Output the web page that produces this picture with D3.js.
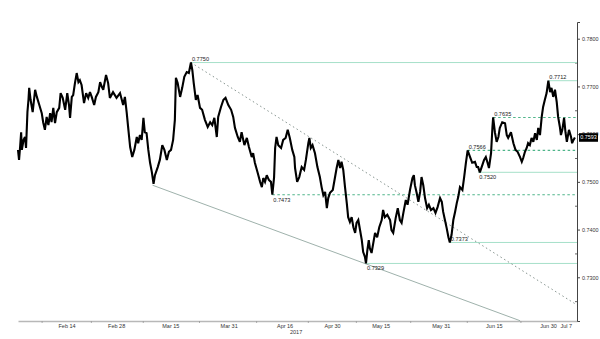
<!DOCTYPE html>
<html>
<head>
<meta charset="utf-8">
<script src="https://cdn.jsdelivr.net/npm/d3@7"></script>
<style>
body { margin: 0; background: #fff; }
text { font-family: "Liberation Sans", Arial, sans-serif; }
</style>
</head>
<body>
<script>
// time position on the chart axis, in days after 31 Jan 2017
var days = [
  0.0,0.3,0.6,0.9,1.1,1.6,2.0,2.3,2.7,3.0,
  3.2,3.6,4.2,4.9,5.4,6.1,6.8,7.2,7.7,8.2,
  8.7,9.2,9.6,10.1,10.6,11.1,11.8,12.2,12.8,13.5,
  14.1,14.6,14.9,15.4,15.8,16.3,16.8,17.3,17.7,18.2,
  18.9,19.5,20.1,20.6,21.1,21.8,22.3,23.0,23.5,24.0,
  24.4,25.2,25.8,26.3,
  27.2,28.2,29.2,30.1,30.6,31.1,31.6,32.1,32.7,33.3,
  34.0,34.4,34.9,35.4,35.9,36.3,36.8,37.3,37.8,38.3,
  38.8,39.2,40.0,40.6,41.3,41.9,42.6,43.2,43.8,44.4,
  44.9,45.2,45.7,46.4,47.0,47.6,48.3,48.9,49.5,49.9,
  50.3,50.9,51.4,52.1,52.7,
  53.5,54.3,55.0,55.6,56.2,56.9,57.3,58.1,58.8,59.4,
  60.2,61.0,61.6,62.1,62.9,63.5,64.0,64.8,65.5,66.1,
  66.9,67.3,67.8,68.6,69.3,69.8,70.2,70.7,71.2,71.8,
  72.4,72.8,73.3,73.6,74.0,74.5,75.3,75.9,76.6,77.2,
  77.8,78.5,79.1,
  79.3,79.9,80.5,81.2,81.9,82.4,83.1,83.4,83.8,84.3,
  85.0,85.7,86.4,86.9,87.4,87.9,88.4,88.8,89.3,90.1,
  90.7,91.2,91.7,92.2,92.6,93.1,93.6,94.1,94.5,95.0,
  95.5,96.0,96.5,96.9,97.4,97.9,98.4,98.8,99.3,99.6,
  100.0,100.4,100.7,101.2,101.7,102.2,102.8,103.4,104.1,104.5,
  105.0,105.7,106.5,
  106.9,107.4,108.1,108.7,109.3,109.8,110.3,111.0,111.5,112.2,
  112.9,113.3,113.6,114.1,114.6,115.1,115.5,116.0,116.5,117.1,
  117.6,118.2,118.9,119.5,120.1,120.8,121.3,121.7,122.2,122.7,
  123.2,123.6,124.1,124.6,125.1,125.6,126.0,126.5,127.2,127.7,
  128.2,128.7,129.4,130.0,130.8,131.3,131.7,132.2,
  132.9,133.4,133.9,134.4,134.8,135.4,135.8,136.0,136.5,137.0,
  137.5,137.9,138.6,139.4,139.9,140.3,141.1,141.8,142.4,143.0,
  143.7,144.2,144.6,145.1,145.6,146.0,146.5,147.0,147.5,148.0,
  148.5,148.9,149.4,149.9,150.3,150.8,151.3,151.8,152.3,152.7,
  153.2,153.7,154.2,154.6,155.1,155.4,155.8,156.3,156.7,157.1,
  157.7,158.3,158.6,159.0,159.4
];

var closes = [
  0.7567,0.7546,0.7573,0.7604,0.7567,0.7588,0.7594,0.7571,0.7646,0.7672,
  0.7697,0.7672,0.7646,0.7693,0.7678,0.7661,0.7644,0.7625,0.7609,0.7636,
  0.7619,0.7644,0.7625,0.7655,0.7623,0.7646,0.7655,0.7686,0.7676,0.7651,
  0.7686,0.7661,0.7634,0.7678,0.7682,0.7707,0.7728,0.7709,0.7713,0.7703,
  0.7665,0.7686,0.7676,0.7688,0.7678,0.7661,0.7678,0.7688,0.7709,0.7699,
  0.7693,0.7724,0.7707,0.7676,
  0.7688,0.7676,0.7686,0.7661,0.7678,0.7646,0.7609,0.7573,0.7552,0.7567,
  0.7594,0.7581,0.7598,0.7588,0.7634,0.7604,0.7602,0.7567,0.7540,0.7521,
  0.7496,0.7514,0.7531,0.7546,0.7577,0.7567,0.7546,0.7563,0.7567,0.7588,
  0.7630,0.7718,0.7707,0.7678,0.7697,0.7720,0.7730,0.7728,0.7750,0.7734,
  0.7707,0.7672,0.7682,0.7655,0.7651,
  0.7630,0.7615,0.7625,0.7619,0.7634,0.7594,0.7636,0.7657,0.7672,0.7676,
  0.7661,0.7651,0.7636,0.7613,0.7594,0.7584,0.7604,0.7577,0.7592,0.7573,
  0.7552,0.7560,0.7540,0.7519,0.7500,0.7489,0.7508,0.7500,0.7514,0.7504,
  0.7500,0.7473,0.7510,0.7571,0.7594,0.7577,0.7571,0.7588,0.7592,0.7609,
  0.7592,0.7567,0.7552,
  0.7529,0.7500,0.7510,0.7531,0.7525,0.7546,0.7581,0.7592,0.7571,0.7577,
  0.7560,0.7531,0.7510,0.7489,0.7472,0.7479,0.7445,0.7466,0.7477,0.7483,
  0.7508,0.7529,0.7546,0.7529,0.7542,0.7525,0.7489,0.7456,0.7426,0.7416,
  0.7426,0.7405,0.7393,0.7414,0.7420,0.7399,0.7378,0.7353,0.7343,0.7329,
  0.7357,0.7378,0.7361,0.7351,0.7372,0.7393,0.7384,0.7405,0.7420,0.7441,
  0.7426,0.7431,0.7420,
  0.7399,0.7393,0.7424,0.7445,0.7420,0.7414,0.7435,0.7462,0.7452,0.7483,
  0.7508,0.7514,0.7493,0.7477,0.7458,0.7479,0.7510,0.7493,0.7466,0.7445,
  0.7452,0.7441,0.7445,0.7435,0.7447,0.7466,0.7458,0.7437,0.7420,0.7403,
  0.7384,0.7373,0.7389,0.7420,0.7437,0.7456,0.7468,0.7489,0.7483,0.7510,
  0.7540,0.7566,0.7552,0.7540,0.7542,0.7531,0.7531,0.7520,
  0.7535,0.7546,0.7552,0.7540,0.7529,0.7560,0.7615,0.7635,0.7604,0.7584,
  0.7594,0.7613,0.7625,0.7623,0.7598,0.7592,0.7604,0.7581,0.7567,0.7563,
  0.7552,0.7542,0.7550,0.7563,0.7571,0.7581,0.7577,0.7592,0.7584,0.7602,
  0.7588,0.7613,0.7598,0.7636,0.7657,0.7672,0.7686,0.7712,0.7688,0.7697,
  0.7678,0.7693,0.7667,0.7636,0.7615,0.7598,0.7609,0.7634,0.7604,0.7584,
  0.7609,0.7594,0.7581,0.7588,0.7593
];

var tickDays   = [13.9, 28.1, 43.6, 60.3, 76.3, 89.9, 103.8, 121.0, 136.2, 151.7, 156.8];
var tickLabels = ["Feb 14", "Feb 28", "Mar 15", "Mar 31", "Apr 16", "Apr 30", "May 15", "May 31", "Jun 15", "Jun 30", "Jul 7"];
var yearDay = 79.6, yearLabel = "2017";

var yTicks = [0.73, 0.74, 0.75, 0.76, 0.77, 0.78];
var yMinor = [0.7250, 0.7350, 0.7450, 0.7550, 0.7650, 0.7750];

// marked levels: value and the day the level starts from
var levelValues = [0.7750, 0.7712, 0.7635, 0.7566, 0.7520, 0.7473, 0.7373, 0.7329];
var levelStart  = [49.5, 151.8, 136.0, 128.7, 131.7, 72.8, 123.6, 99.6];

// trend lines [day, value]
var resistLine  = [[49.5, 0.7750], [160, 0.7242]];
var supportLine = [[38.5, 0.7493], [143.7, 0.7209]];

var lastPrice = 0.7593;

var width = 600, height = 339;
var dashedLevels = [0.7635, 0.7566, 0.7473];
var labelsBelow = [0.7520, 0.7473, 0.7329];

var x = d3.scaleLinear().domain([0, 160]).range([18, 577]);
var y = d3.scaleLinear().domain([0.72084, 0.7835]).range([321, 22]);

var svg = d3.select("body").append("svg")
    .attr("width", width)
    .attr("height", height);

// x axis
var xAxis = d3.axisBottom(x)
    .tickValues(tickDays)
    .tickFormat(function(d, i) { return tickLabels[i]; })
    .tickSize(0)
    .tickPadding(3);

var gx = svg.append("g")
    .attr("transform", "translate(0,321)")
    .call(xAxis);
gx.select(".domain").attr("stroke", "#b8b8b8").attr("stroke-width", 1.3);
gx.selectAll("text").attr("fill", "#333").style("font-size", "5.5px");

// small marks between the date labels
var midDays = [tickDays[0] - 7];
for (var i = 1; i < tickDays.length - 1; i++) midDays.push((tickDays[i - 1] + tickDays[i]) / 2);
svg.append("g").selectAll("line")
    .data(midDays)
    .enter().append("line")
    .attr("x1", function(d) { return x(d); })
    .attr("x2", function(d) { return x(d); })
    .attr("y1", 321).attr("y2", 323)
    .attr("stroke", "#999").attr("stroke-width", 0.8);

svg.append("text")
    .attr("x", x(yearDay)).attr("y", 333.5)
    .attr("text-anchor", "middle")
    .attr("fill", "#333")
    .style("font-size", "5.5px")
    .text(yearLabel);

// y axis
var yAxis = d3.axisRight(y)
    .tickValues(yTicks)
    .tickFormat(d3.format(".4f"))
    .tickSize(3)
    .tickPadding(2);

var gy = svg.append("g")
    .attr("transform", "translate(577,0)")
    .call(yAxis);
gy.select(".domain").attr("stroke", "#444");
gy.selectAll(".tick line").attr("stroke", "#444");
gy.selectAll("text").attr("fill", "#333").style("font-size", "5.4px");

svg.append("g")
    .attr("transform", "translate(577,0)")
    .call(d3.axisLeft(y).tickValues(yMinor).tickSize(2).tickFormat(""))
    .call(function(g) { g.select(".domain").remove(); })
    .selectAll("line").attr("stroke", "#666");

// level lines
var levels = levelValues.map(function(v, i) { return {value: v, start: levelStart[i]}; });

svg.append("g").selectAll("line")
    .data(levels)
    .enter().append("line")
    .attr("x1", function(d) { return x(d.start); })
    .attr("x2", x(160))
    .attr("y1", function(d) { return y(d.value); })
    .attr("y2", function(d) { return y(d.value); })
    .attr("stroke", function(d) { return dashedLevels.indexOf(d.value) >= 0 ? "#4fb58a" : "#a6e0c9"; })
    .attr("stroke-width", function(d) { return dashedLevels.indexOf(d.value) >= 0 ? 1.1 : 1; })
    .attr("stroke-dasharray", function(d) { return dashedLevels.indexOf(d.value) >= 0 ? "2.5,2.5" : null; });

// trend lines
var line = d3.line()
    .x(function(d) { return x(d[0]); })
    .y(function(d) { return y(d[1]); });

svg.append("path")
    .datum(resistLine)
    .attr("d", line)
    .attr("fill", "none")
    .attr("stroke", "#86948f")
    .attr("stroke-width", 1)
    .attr("stroke-dasharray", "1.5,2.8");

svg.append("path")
    .datum(supportLine)
    .attr("d", line)
    .attr("fill", "none")
    .attr("stroke", "#93a8a2")
    .attr("stroke-width", 0.9);

// price series
var series = [];
for (var j = 0; j < Math.min(days.length, closes.length); j++) series.push([days[j], closes[j]]);

svg.append("path")
    .datum(series)
    .attr("d", line)
    .attr("fill", "none")
    .attr("stroke", "#000")
    .attr("stroke-width", 2.1)
    .attr("stroke-linejoin", "miter")
    .attr("stroke-miterlimit", 3);

// level labels
svg.append("g").selectAll("text")
    .data(levels)
    .enter().append("text")
    .attr("x", function(d) { return x(d.start) + 1; })
    .attr("y", function(d) { return labelsBelow.indexOf(d.value) >= 0 ? y(d.value) + 7 : y(d.value) - 1.5; })
    .attr("fill", "#222")
    .style("font-size", "5.6px")
    .text(function(d) { return d.value.toFixed(4); });

// last price box
var ly = y(lastPrice);
svg.append("rect")
    .attr("x", 579).attr("y", ly - 4.3)
    .attr("width", 19).attr("height", 8.6)
    .attr("fill", "#000");
svg.append("text")
    .attr("x", 588.5).attr("y", ly + 2)
    .attr("text-anchor", "middle")
    .attr("fill", "#fff")
    .style("font-size", "5.4px")
    .text(lastPrice.toFixed(4));
</script>
</body>
</html>
